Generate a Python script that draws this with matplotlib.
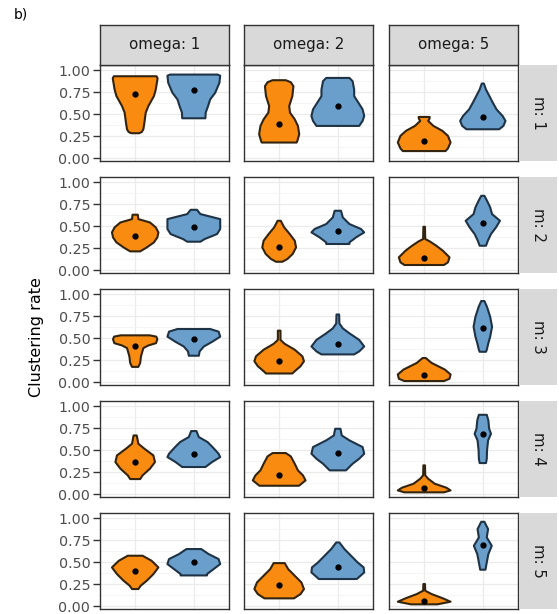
import matplotlib
matplotlib.use("Agg")
import matplotlib.pyplot as plt
from matplotlib.patches import Polygon
import numpy as np

# ---------------- data ----------------
omega_levels = ["1", "2", "5"]
m_levels = ["1", "2", "3", "4", "5"]
groups = ["A", "B"]          # two violin groups per panel (orange, blue)
y_ticks = [0.00, 0.25, 0.50, 0.75, 1.00]

# violin profiles: y values (top -> bottom) and relative density (1 = widest)
# one list per omega (1, 2, 5) for each m
orange_y_m1 = [[0.934, 0.91, 0.783, 0.708, 0.595, 0.52, 0.407, 0.331, 0.30, 0.286],
               [0.889, 0.866, 0.821, 0.708, 0.595, 0.52, 0.444, 0.369, 0.275, 0.20, 0.18],
               [0.471, 0.45, 0.426, 0.369, 0.313, 0.256, 0.181, 0.113, 0.083]]
orange_w_m1 = [[0.81, 0.85, 0.78, 0.71, 0.50, 0.40, 0.35, 0.31, 0.25, 0.15],
               [0.25, 0.44, 0.54, 0.50, 0.38, 0.41, 0.59, 0.71, 0.76, 0.69, 0.66],
               [0.21, 0.20, 0.15, 0.35, 0.69, 0.90, 1.00, 0.90, 0.81]]
blue_y_m1 = [[0.953, 0.94, 0.859, 0.746, 0.67, 0.595, 0.52, 0.456],
             [0.915, 0.878, 0.783, 0.708, 0.633, 0.557, 0.482, 0.426, 0.369],
             [0.851, 0.783, 0.708, 0.633, 0.557, 0.482, 0.426, 0.369, 0.331]]
blue_w_m1 = [[0.90, 1.00, 0.97, 0.81, 0.62, 0.54, 0.45, 0.44],
             [0.44, 0.56, 0.62, 0.62, 0.78, 0.94, 1.00, 0.94, 0.81],
             [0.04, 0.12, 0.25, 0.38, 0.52, 0.75, 0.86, 0.78, 0.62]]

orange_y_m2 = [[0.633, 0.583, 0.545, 0.489, 0.432, 0.375, 0.318, 0.261, 0.216],
               [0.564, 0.489, 0.413, 0.337, 0.261, 0.186, 0.129, 0.098],
               [0.496, 0.356, 0.33, 0.28, 0.223, 0.148, 0.091, 0.061]]
orange_w_m2 = [[0.10, 0.12, 0.56, 0.78, 0.88, 0.84, 0.71, 0.44, 0.19],
               [0.06, 0.19, 0.40, 0.59, 0.64, 0.51, 0.31, 0.12],
               [0.03, 0.04, 0.21, 0.46, 0.71, 0.96, 0.90, 0.75]]
blue_y_m2 = [[0.689, 0.64, 0.583, 0.527, 0.47, 0.413, 0.356, 0.326],
             [0.678, 0.602, 0.527, 0.47, 0.432, 0.375, 0.318, 0.30],
             [0.848, 0.792, 0.716, 0.64, 0.564, 0.489, 0.413, 0.337, 0.28]]
blue_w_m2 = [[0.12, 0.25, 1.00, 1.00, 1.00, 0.88, 0.41, 0.25],
             [0.12, 0.19, 0.44, 0.88, 1.00, 0.69, 0.44, 0.44],
             [0.06, 0.16, 0.28, 0.35, 0.65, 0.50, 0.31, 0.19, 0.12]]

orange_y_m3 = [[0.535, 0.52, 0.49, 0.446, 0.42, 0.39, 0.296, 0.221, 0.176],
               [0.588, 0.483, 0.438, 0.371, 0.296, 0.24, 0.184, 0.127, 0.101],
               [0.277, 0.221, 0.146, 0.09, 0.041, 0.015]]
orange_w_m3 = [[0.55, 0.80, 0.84, 0.79, 0.50, 0.31, 0.22, 0.19, 0.12],
               [0.05, 0.05, 0.21, 0.59, 0.88, 0.94, 0.81, 0.59, 0.50],
               [0.06, 0.28, 0.78, 1.00, 0.96, 0.75]]
blue_y_m3 = [[0.607, 0.577, 0.52, 0.464, 0.408, 0.352, 0.303],
             [0.772, 0.67, 0.614, 0.558, 0.483, 0.408, 0.352, 0.318],
             [0.925, 0.858, 0.745, 0.633, 0.52, 0.446, 0.371, 0.348]]
blue_w_m3 = [[0.62, 0.94, 1.00, 0.71, 0.38, 0.22, 0.19],
             [0.05, 0.06, 0.19, 0.44, 0.81, 1.00, 0.81, 0.62],
             [0.06, 0.16, 0.28, 0.35, 0.28, 0.21, 0.15, 0.12]]

orange_y_m4 = [[0.67, 0.576, 0.519, 0.443, 0.367, 0.292, 0.216, 0.174],
               [0.47, 0.432, 0.348, 0.273, 0.216, 0.159, 0.098],
               [0.33, 0.216, 0.178, 0.121, 0.076, 0.045, 0.023]]
orange_w_m4 = [[0.06, 0.12, 0.35, 0.69, 0.75, 0.56, 0.28, 0.19],
               [0.25, 0.44, 0.59, 0.71, 0.90, 1.00, 0.75],
               [0.03, 0.04, 0.15, 0.40, 0.84, 1.00, 0.75]]
blue_y_m4 = [[0.72, 0.652, 0.595, 0.538, 0.462, 0.424, 0.367, 0.311],
             [0.746, 0.67, 0.614, 0.538, 0.462, 0.405, 0.348, 0.273],
             [0.905, 0.841, 0.746, 0.689, 0.614, 0.50, 0.405, 0.356]]
blue_w_m4 = [[0.10, 0.19, 0.52, 0.71, 0.94, 1.00, 0.69, 0.44],
             [0.10, 0.15, 0.44, 0.94, 1.00, 0.81, 0.56, 0.31],
             [0.15, 0.21, 0.24, 0.31, 0.20, 0.16, 0.15, 0.12]]

orange_y_m5 = [[0.576, 0.519, 0.443, 0.367, 0.292, 0.235, 0.197],
               [0.492, 0.424, 0.348, 0.273, 0.197, 0.14, 0.091],
               [0.254, 0.178, 0.14, 0.091, 0.053, 0.023]]
orange_w_m5 = [[0.28, 0.62, 0.88, 0.69, 0.44, 0.21, 0.12],
               [0.21, 0.34, 0.59, 0.84, 0.94, 0.81, 0.56],
               [0.03, 0.04, 0.28, 0.71, 1.00, 0.50]]
blue_y_m5 = [[0.652, 0.595, 0.538, 0.481, 0.424, 0.367, 0.352],
             [0.727, 0.652, 0.576, 0.50, 0.443, 0.386, 0.311],
             [0.962, 0.879, 0.784, 0.689, 0.595, 0.50, 0.417]]
blue_w_m5 = [[0.28, 0.56, 0.94, 1.00, 0.75, 0.50, 0.50],
             [0.06, 0.25, 0.50, 0.75, 0.98, 1.00, 0.72],
             [0.06, 0.20, 0.15, 0.34, 0.21, 0.15, 0.10]]

orange_mean = [[0.730, 0.395, 0.200],
               [0.386, 0.261, 0.140],
               [0.416, 0.247, 0.086],
               [0.371, 0.216, 0.072],
               [0.405, 0.246, 0.064]]
blue_mean = [[0.776, 0.595, 0.471],
             [0.496, 0.443, 0.538],
             [0.498, 0.438, 0.614],
             [0.455, 0.473, 0.689],
             [0.500, 0.451, 0.700]]

orange_y = [orange_y_m1, orange_y_m2, orange_y_m3, orange_y_m4, orange_y_m5]
orange_w = [orange_w_m1, orange_w_m2, orange_w_m3, orange_w_m4, orange_w_m5]
blue_y = [blue_y_m1, blue_y_m2, blue_y_m3, blue_y_m4, blue_y_m5]
blue_w = [blue_w_m1, blue_w_m2, blue_w_m3, blue_w_m4, blue_w_m5]

# ---------------- style ----------------
W, H = 559, 614
ORANGE, ORANGE_EDGE = "#F98B10", "#33240F"
BLUE, BLUE_EDGE = "#6A9FCC", "#1F3346"
DARK = "#333333"
TICKTXT = "#4D4D4D"
STRIP = "#D9D9D9"
HALF = 0.45

col_left = [100, 244, 389]
col_w = 129
row_top = [65, 177, 289, 401, 513]
row_h = 96
strip_top, strip_h = 25, 40
rstrip_left, rstrip_w = 519, 38

fig = plt.figure(figsize=(W / 100, H / 100), dpi=100)


def rect(l, t, w, h):
    return [l / W, 1 - (t + h) / H, w / W, h / H]


def violin(ax, xc, ys, ws, fc, ec):
    ys = np.asarray(ys)
    ws = np.asarray(ws) * HALF
    right = np.column_stack([xc + ws, ys])
    left = np.column_stack([xc - ws, ys])[::-1]
    pts = np.vstack([right, left])
    ax.add_patch(Polygon(pts, closed=True, facecolor=fc, edgecolor=ec,
                         linewidth=1.5, joinstyle="round", zorder=3))


for r, m in enumerate(m_levels):
    for c, om in enumerate(omega_levels):
        ax = fig.add_axes(rect(col_left[c], row_top[r], col_w, row_h))
        ax.set_xlim(0.4, 2.6)
        ax.set_ylim(-0.03, 1.062)
        ax.set_xticks([1, 2])
        ax.set_yticks(y_ticks)
        ax.set_yticks([0.125, 0.375, 0.625, 0.875], minor=True)
        ax.grid(which="major", color="#EBEBEB", lw=0.9, zorder=0)
        ax.grid(which="minor", axis="y", color="#F2F2F2", lw=0.5, zorder=0)
        ax.set_axisbelow(True)
        for s in ax.spines.values():
            s.set_color(DARK)
            s.set_linewidth(1.0)
        ax.tick_params(axis="x", which="both", length=0, labelbottom=False)
        ax.tick_params(axis="y", which="minor", length=0)
        if c == 0:
            ax.tick_params(axis="y", which="major", length=5, width=1.0,
                           color=DARK, labelcolor=TICKTXT, labelsize=10.3, pad=2)
            ax.set_yticklabels([f"{v:.2f}" for v in y_ticks])
        else:
            ax.tick_params(axis="y", which="major", length=0, labelleft=False)

        violin(ax, 1, orange_y[r][c], orange_w[r][c], ORANGE, ORANGE_EDGE)
        violin(ax, 2, blue_y[r][c], blue_w[r][c], BLUE, BLUE_EDGE)
        ax.plot([1, 2], [orange_mean[r][c], blue_mean[r][c]], "o", ls="none",
                color="black", ms=3.5, zorder=4)

# top strips
for c, om in enumerate(omega_levels):
    sax = fig.add_axes(rect(col_left[c], strip_top, col_w, strip_h))
    sax.set_facecolor(STRIP)
    sax.set_xticks([]); sax.set_yticks([])
    for s in sax.spines.values():
        s.set_color(DARK); s.set_linewidth(1.0)
    sax.text(0.5, 0.5, f"omega: {om}", ha="center", va="center",
             fontsize=10.8, color="#1A1A1A", transform=sax.transAxes)

# right strips
for r, m in enumerate(m_levels):
    sax = fig.add_axes(rect(rstrip_left, row_top[r], rstrip_w, row_h))
    sax.set_facecolor(STRIP)
    sax.set_xticks([]); sax.set_yticks([])
    for s in sax.spines.values():
        s.set_visible(False)
    sax.text(0.5, 0.5, f"m: {m}", ha="center", va="center", rotation=-90,
             fontsize=10.8, color="#1A1A1A", transform=sax.transAxes)

fig.text(37 / W, 1 - 337 / H, "Clustering rate", rotation=90,
         ha="center", va="center", fontsize=11.5, color="black")
fig.text(14 / W, 1 - 15 / H, "b)", ha="left", va="center", fontsize=10)

fig.savefig("out.png", dpi=100)
